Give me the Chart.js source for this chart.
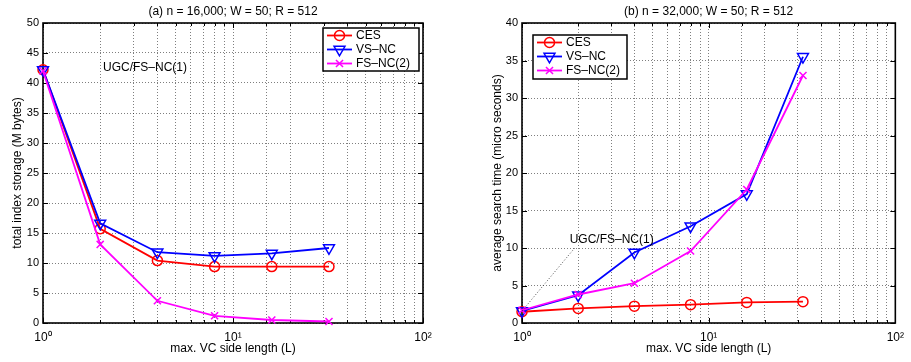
<!DOCTYPE html>
<html>
<head>
<meta charset="utf-8">
<script src="https://cdn.jsdelivr.net/npm/chart.js@4.4.0/dist/chart.umd.min.js"></script>
<style>
    html, body { margin: 0; padding: 0; background: #fff; }
    #wrap { position: relative; width: 911px; height: 362px; }
    #storageChart { position: absolute; left: 0; top: 0; }
    #timeChart { position: absolute; left: 455px; top: 0; }
</style>
</head>
<body>
<div id="wrap">
    <canvas id="storageChart" width="455" height="362"></canvas>
    <canvas id="timeChart" width="456" height="362"></canvas>
</div>
<script>
// max. VC side length (L)
const sideLength = [1, 2, 4, 8, 16, 32];
const seriesNames = ['CES', 'VS–NC', 'FS–NC(2)'];
const xTickLabels = ['10⁰', '10¹', '10²'];

// (a) total index storage (M bytes)
const storageCES = [42.2, 15.7, 10.4, 9.4, 9.4, 9.4];
const storageVSNC = [42.2, 16.6, 11.8, 11.2, 11.6, 12.5];
const storageFSNC2 = [42.0, 13.1, 3.7, 1.2, 0.5, 0.25];

// (b) average search time (micro seconds)
const timeCES = [1.5, 1.95, 2.25, 2.45, 2.75, 2.85];
const timeVSNC = [1.6, 3.7, 9.4, 12.9, 17.2, 35.5];
const timeFSNC2 = [1.7, 3.8, 5.3, 9.6, 17.8, 33.0];

const noteText = 'UGC/FS–NC(1)';

const FONT = "'Liberation Sans', Arial, Helvetica, sans-serif";
Chart.defaults.font.family = FONT;
Chart.defaults.color = '#000';

function isDecade(v) {
    const e = Math.log10(v);
    return Math.abs(e - Math.round(e)) < 1e-9;
}

function toPoints(values) {
    return sideLength.map((x, i) => ({ x: x, y: values[i] }));
}

function drawMarker(ctx, ds, x, y) {
    ctx.save();
    ctx.strokeStyle = ds.borderColor;
    ctx.fillStyle = 'rgba(0,0,0,0)';
    ctx.lineWidth = ds.pointBorderWidth;
    const r = ds.pointRadius;
    if (Chart.helpers && Chart.helpers.drawPoint) {
        Chart.helpers.drawPoint(ctx, {
            pointStyle: ds.pointStyle,
            rotation: ds.pointRotation || 0,
            radius: r,
            borderWidth: ds.pointBorderWidth
        }, x, y);
    } else {
        ctx.beginPath();
        if (ds.pointStyle === 'circle') {
            ctx.arc(x, y, r, 0, Math.PI * 2);
        } else if (ds.pointStyle === 'triangle') {
            ctx.moveTo(x, y + r);
            ctx.lineTo(x - r * 0.866, y - r / 2);
            ctx.lineTo(x + r * 0.866, y - r / 2);
            ctx.closePath();
        } else {
            const d = r * 0.707;
            ctx.moveTo(x - d, y - d); ctx.lineTo(x + d, y + d);
            ctx.moveTo(x - d, y + d); ctx.lineTo(x + d, y - d);
        }
        ctx.stroke();
    }
    ctx.restore();
}

// axes box, inner tick marks, legend box and text note in the Matlab style
const matlabFrame = {
    id: 'matlabFrame',
    beforeDatasetsDraw(chart) {
        const { ctx, chartArea: a, scales } = chart;
        ctx.save();
        ctx.strokeStyle = '#000';
        ctx.lineWidth = 1;
        ctx.beginPath();
        scales.x.ticks.forEach(t => {
            const px = Math.round(scales.x.getPixelForValue(t.value)) + 0.5;
            const len = isDecade(t.value) ? 5 : 3;
            ctx.moveTo(px, a.bottom); ctx.lineTo(px, a.bottom - len);
            ctx.moveTo(px, a.top); ctx.lineTo(px, a.top + len);
        });
        scales.y.ticks.forEach(t => {
            const py = Math.round(scales.y.getPixelForValue(t.value)) + 0.5;
            ctx.moveTo(a.left, py); ctx.lineTo(a.left + 5, py);
            ctx.moveTo(a.right, py); ctx.lineTo(a.right - 5, py);
        });
        ctx.stroke();
        ctx.lineWidth = 1.6;
        ctx.strokeRect(a.left, a.top, a.right - a.left, a.bottom - a.top);
        ctx.restore();
    },
    afterDraw(chart, args, opts) {
        const { ctx, chartArea: a, scales } = chart;
        ctx.save();

        // text note, optionally with a dotted leader line
        const note = opts.note;
        if (note.lineFrom) {
            ctx.strokeStyle = 'rgba(0,0,0,0.7)';
            ctx.lineWidth = 1;
            ctx.setLineDash([1, 2]);
            ctx.beginPath();
            ctx.moveTo(scales.x.getPixelForValue(note.lineFrom[0]), scales.y.getPixelForValue(note.lineFrom[1]));
            ctx.lineTo(scales.x.getPixelForValue(note.lineTo[0]), scales.y.getPixelForValue(note.lineTo[1]));
            ctx.stroke();
            ctx.setLineDash([]);
        }
        ctx.fillStyle = '#000';
        ctx.font = '12px ' + FONT;
        ctx.textAlign = 'left';
        ctx.textBaseline = 'middle';
        ctx.fillText(noteText, scales.x.getPixelForValue(note.at[0]), scales.y.getPixelForValue(note.at[1]));

        // legend
        const lg = opts.legend;
        const bx = lg.fromRight ? a.right - lg.dx - lg.w : a.left + lg.dx;
        const by = a.top + lg.dy;
        ctx.fillStyle = '#fff';
        ctx.fillRect(bx, by, lg.w, lg.h);
        ctx.strokeStyle = '#000';
        ctx.lineWidth = 1.5;
        ctx.strokeRect(bx, by, lg.w, lg.h);
        chart.data.datasets.forEach((ds, i) => {
            const y = by + 7.5 + i * 14;
            ctx.strokeStyle = ds.borderColor;
            ctx.lineWidth = ds.borderWidth;
            ctx.beginPath();
            ctx.moveTo(bx + 4, y);
            ctx.lineTo(bx + 29, y);
            ctx.stroke();
            drawMarker(ctx, ds, bx + 16.5, y);
            ctx.fillStyle = '#000';
            ctx.font = '12px ' + FONT;
            ctx.textAlign = 'left';
            ctx.textBaseline = 'middle';
            ctx.fillText(ds.label, bx + 33, y + 0.5);
        });
        ctx.restore();
    }
};

function makeDatasets(ces, vs, fs) {
    return [
        {
            label: seriesNames[0], data: toPoints(ces), order: 2,
            borderColor: '#ff0000', borderWidth: 1.8,
            pointStyle: 'circle', pointRadius: 5, pointBorderWidth: 1.5,
            pointBackgroundColor: 'rgba(0,0,0,0)', pointBorderColor: '#ff0000'
        },
        {
            label: seriesNames[1], data: toPoints(vs), order: 1,
            borderColor: '#0000ff', borderWidth: 1.8,
            pointStyle: 'triangle', pointRotation: 180, pointRadius: 6.3, pointBorderWidth: 1.5,
            pointBackgroundColor: 'rgba(0,0,0,0)', pointBorderColor: '#0000ff'
        },
        {
            label: seriesNames[2], data: toPoints(fs), order: 0,
            borderColor: '#ff00ff', borderWidth: 1.8,
            pointStyle: 'crossRot', pointRadius: 5, pointBorderWidth: 1.5,
            pointBackgroundColor: 'rgba(0,0,0,0)', pointBorderColor: '#ff00ff'
        }
    ];
}

function makeChart(canvasId, cfg) {
    const gridColor = 'rgba(0,0,0,0.5)';
    return new Chart(document.getElementById(canvasId), {
        type: 'line',
        data: { datasets: makeDatasets(cfg.ces, cfg.vs, cfg.fs) },
        options: {
            responsive: false,
            animation: false,
            clip: false,
            layout: { padding: { left: 0, right: cfg.padRight, top: 0, bottom: 0 } },
            elements: { line: { tension: 0 } },
            plugins: {
                legend: { display: false },
                tooltip: { enabled: false },
                title: {
                    display: true,
                    text: cfg.title,
                    fullSize: false,
                    color: '#000',
                    font: { size: 12, weight: 'normal' },
                    padding: { top: 4, bottom: 4.6 }
                },
                matlabFrame: { legend: cfg.legend, note: cfg.note }
            },
            scales: {
                x: {
                    type: 'logarithmic',
                    min: 1,
                    max: 100,
                    afterFit: s => { s.height = 39; },
                    grid: { color: gridColor, lineWidth: 1, drawTicks: false },
                    border: { display: false, dash: [1, 2] },
                    ticks: {
                        autoSkip: false,
                        maxRotation: 0,
                        padding: 7,
                        font: { size: 12 },
                        callback: v => isDecade(v) ? xTickLabels[Math.round(Math.log10(v))] : ''
                    },
                    title: {
                        display: true,
                        text: 'max. VC side length (L)',
                        font: { size: 12 },
                        padding: { top: 0, bottom: 6 }
                    }
                },
                y: {
                    min: 0,
                    max: cfg.yMax,
                    afterFit: s => { s.width = cfg.yWidth; },
                    grid: { color: gridColor, lineWidth: 1, drawTicks: false },
                    border: { display: false, dash: [1, 2] },
                    ticks: { stepSize: 5, padding: 4, font: { size: 11 } },
                    title: {
                        display: true,
                        text: cfg.yTitle,
                        font: { size: 12 },
                        padding: { top: cfg.yTitlePad, bottom: 0 }
                    }
                }
            }
        },
        plugins: [matlabFrame]
    });
}

makeChart('storageChart', {
    title: '(a) n = 16,000; W = 50; R = 512',
    yTitle: 'total index storage (M bytes)',
    ces: storageCES, vs: storageVSNC, fs: storageFSNC2,
    yMax: 50, yWidth: 43, yTitlePad: 10, padRight: 32,
    legend: { fromRight: true, dx: 4, dy: 5, w: 96, h: 43 },
    note: { at: [2.07, 42.5] }
});

makeChart('timeChart', {
    title: '(b) n = 32,000; W = 50; R = 512',
    yTitle: 'average search time (micro seconds)',
    ces: timeCES, vs: timeVSNC, fs: timeFSNC2,
    yMax: 40, yWidth: 67, yTitlePad: 35, padRight: 9,
    legend: { fromRight: false, dx: 11, dy: 12, w: 94, h: 44 },
    note: { at: [1.8, 11.1], lineFrom: [1, 1.6], lineTo: [1.93, 10.1] }
});
</script>
</body>
</html>
